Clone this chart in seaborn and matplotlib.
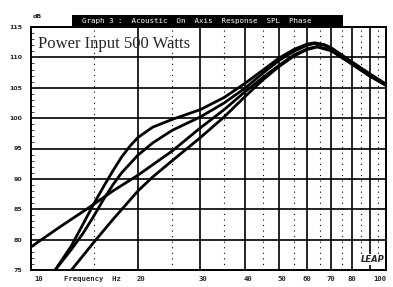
import numpy as np
import pandas as pd
import matplotlib
matplotlib.use("Agg")
import matplotlib.pyplot as plt
from matplotlib.patches import Rectangle
import seaborn as sns

# ------------------------------------------------------
# Data
# ------------------------------------------------------
freq_a = [11.7, 13, 14, 15, 16, 17, 18, 19, 20, 22, 25, 30, 35, 40, 45, 50, 55, 60, 63, 67, 70, 80, 90, 100]
spl_a = [75.0, 79.0, 82.5, 85.8, 88.7, 91.3, 93.6, 95.4, 96.8, 98.5, 99.8, 101.4, 103.4, 105.7, 107.9, 109.9, 111.3, 112.2, 112.4, 112.1, 111.6, 109.3, 107.3, 105.6]

freq_b = [11.7, 13, 14, 15, 16, 17, 18, 20, 22, 25, 30, 35, 40, 45, 50, 55, 60, 63, 67, 70, 80, 90, 100]
spl_b = [75.0, 78.4, 81.0, 83.8, 86.6, 89.0, 91.0, 93.9, 95.9, 98.0, 100.2, 102.5, 104.9, 107.4, 109.5, 111.0, 112.0, 112.3, 112.0, 111.5, 109.2, 107.2, 105.5]

freq_c = [10, 12, 14.5, 17, 20, 25, 30, 35, 40, 45, 50, 55, 60, 64, 70, 80, 90, 100]
spl_c = [78.8, 82.0, 85.2, 88.0, 90.6, 94.6, 98.4, 101.4, 104.3, 106.7, 108.7, 110.4, 111.4, 111.8, 111.2, 109.0, 107.0, 105.4]

freq_d = [13, 15, 17, 20, 22, 25, 30, 35, 40, 45, 50, 55, 60, 64, 70, 80, 90, 100]
spl_d = [75.0, 79.5, 83.3, 88.0, 90.3, 93.0, 96.8, 100.2, 103.5, 106.3, 108.5, 110.2, 111.3, 111.7, 111.1, 108.9, 106.9, 105.4]

x_ticks = [10, 20, 30, 40, 50, 60, 70, 80, 100]
x_labels = ["10", "20", "30", "40", "50", "60", "70", "80", "100"]
y_ticks = [75, 80, 85, 90, 95, 100, 105, 110, 115]

major_x = [20, 30, 40, 50, 60, 70, 80, 90]
minor_x = [15, 25, 35, 45, 55, 65, 75, 85, 95]

df = pd.concat([
    pd.DataFrame({"freq": freq_a, "spl": spl_a, "curve": "a"}),
    pd.DataFrame({"freq": freq_b, "spl": spl_b, "curve": "b"}),
    pd.DataFrame({"freq": freq_c, "spl": spl_c, "curve": "c"}),
    pd.DataFrame({"freq": freq_d, "spl": spl_d, "curve": "d"}),
])

# ------------------------------------------------------
# Plot
# ------------------------------------------------------
sns.set_style("white")
plt.rcParams["font.family"] = ["DejaVu Sans"]

fig = plt.figure(figsize=(3.93, 2.87), dpi=100)
ax = fig.add_axes([31 / 393, 1 - 270 / 287, 355 / 393, 243 / 287])
ax.set_xscale("log")
ax.set_xlim(10, 100)
ax.set_ylim(75, 115)

# grid
for f in major_x:
    ax.axvline(f, color="black", lw=1.2, zorder=1)
for f in minor_x:
    ax.axvline(f, color="black", lw=0.8, ls=(0, (1, 4)), zorder=1)
for y in y_ticks[1:-1]:
    ax.axhline(y, color="black", lw=1.2, zorder=1)

sns.lineplot(data=df, x="freq", y="spl", hue="curve", units="curve", estimator=None,
             palette=["black"] * 4, lw=2.0, legend=False, sort=False, ax=ax, zorder=3)

ax.set_xlabel("")
ax.set_ylabel("")
ax.set_xticks([])
ax.minorticks_off()
ax.set_yticks(y_ticks)
ax.set_yticklabels([str(v) for v in y_ticks], fontsize=4.5, fontweight="bold")
ax.set_yticks(np.arange(75, 116, 1), minor=True)
ax.tick_params(axis="y", which="major", length=0, pad=6)
ax.tick_params(axis="y", which="minor", direction="in", length=2, width=0.6, left=True)
for s in ax.spines.values():
    s.set_color("black")
    s.set_linewidth(1.4)

# x labels as text under the axis
mono = dict(family="DejaVu Sans Mono", fontweight="bold", fontsize=5.2)
for f, lab in zip(x_ticks, x_labels):
    ha = "left" if f == 10 else ("right" if f == 100 else "center")
    ax.text(f * (1.02 if f < 60 else 1.0), 73.6, lab, ha=ha, va="center", **mono)
ax.text(12.4, 73.6, "Frequency  Hz", ha="left", va="center", **mono)

ax.text(0.02, 0.93, "Power Input 500 Watts", transform=ax.transAxes, ha="left", va="center",
        family="Liberation Serif", fontsize=12, zorder=4)

ax.text(0.995, 0.025, "LEAP", transform=ax.transAxes, ha="right", va="bottom",
        fontsize=6, fontweight="bold", fontstyle="italic", zorder=5,
        bbox=dict(facecolor="white", edgecolor="none", pad=0.5))

# header
fig.text(33 / 393, 1 - 17 / 287, "dB", fontsize=4.5, fontweight="bold", va="center")
fig.patches.append(Rectangle((72 / 393, 1 - 26 / 287), 271 / 393, 11 / 287,
                             transform=fig.transFigure, facecolor="black", edgecolor="none"))
fig.text(82 / 393, 1 - 20.5 / 287, "Graph 3 :  Acoustic  On  Axis  Response  SPL  Phase",
         color="white", family="DejaVu Sans Mono", fontsize=5.4, va="center", ha="left")

plt.savefig("out.png", dpi=100)
plt.close()
